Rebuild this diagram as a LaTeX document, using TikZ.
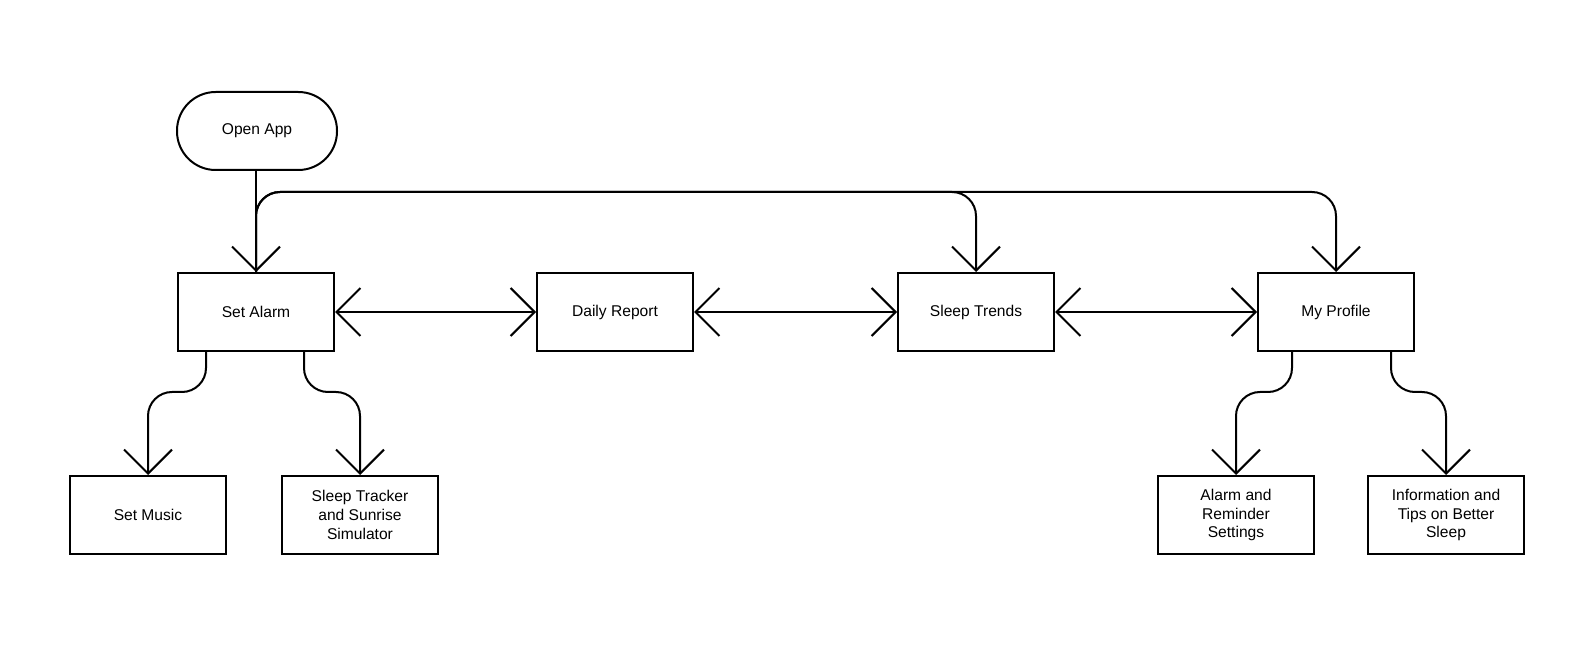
\documentclass[tikz,border=0pt]{standalone}
\usepackage{fontspec}
\setmainfont{Liberation Sans}
\usetikzlibrary{arrows.meta,calc}

\tikzset{
  box/.style={draw, line width=1.5pt, minimum width=117pt, minimum height=58.5pt,
    align=center, inner sep=2pt, font=\fontsize{11.7}{14.2}\selectfont},
  pill/.style={box, minimum width=120pt, rounded corners=29pt},
  arr/.style={line width=1.5pt, -{Straight Barb[length=18pt,width=36pt]}},
  biarr/.style={line width=1.5pt,
    {Straight Barb[length=18pt,width=36pt]}-{Straight Barb[length=18pt,width=36pt]}},
}

\begin{document}
\begin{tikzpicture}[x=0.75pt, y=-0.75pt]
  \useasboundingbox (0,0) rectangle (1596,648);

  % start
  \node[pill] (open) at (257,131) {Open App};

  % main screens
  \node[box] (alarm) at (256,312) {Set Alarm};
  \node[box] (report) at (615,312) {Daily Report};
  \node[box] (trends) at (976,312) {Sleep Trends};
  \node[box] (profile) at (1336,312) {My Profile};

  % sub screens
  \node[box] (music) at (148,515) {Set Music};
  \node[box] (tracker) at (360,515) {Sleep Tracker\\and Sunrise\\Simulator};
  \node[box] (reminder) at (1236,515) {Alarm and\\Reminder\\Settings};
  \node[box] (tips) at (1446,515) {Information and\\Tips on Better\\Sleep};

  % from the top
  \draw[arr] (open.south -| alarm.north) -- (alarm.north);
  \draw[arr, rounded corners=18pt] (alarm.north) -- ++(0,-80) -| (trends.north);
  \draw[arr, rounded corners=18pt] (alarm.north) -- ++(0,-80) -| (profile.north);

  % between screens
  \draw[biarr] (alarm) -- (report);
  \draw[biarr] (report) -- (trends);
  \draw[biarr] (trends) -- (profile);

  % down to sub screens
  \draw[arr, rounded corners=18pt] ($(alarm.south)+(-50,0)$) -- ++(0,40) -| (music.north);
  \draw[arr, rounded corners=18pt] ($(alarm.south)+(48,0)$) -- ++(0,40) -| (tracker.north);
  \draw[arr, rounded corners=18pt] ($(profile.south)+(-44,0)$) -- ++(0,40) -| (reminder.north);
  \draw[arr, rounded corners=18pt] ($(profile.south)+(55,0)$) -- ++(0,40) -| (tips.north);
\end{tikzpicture}
\end{document}
